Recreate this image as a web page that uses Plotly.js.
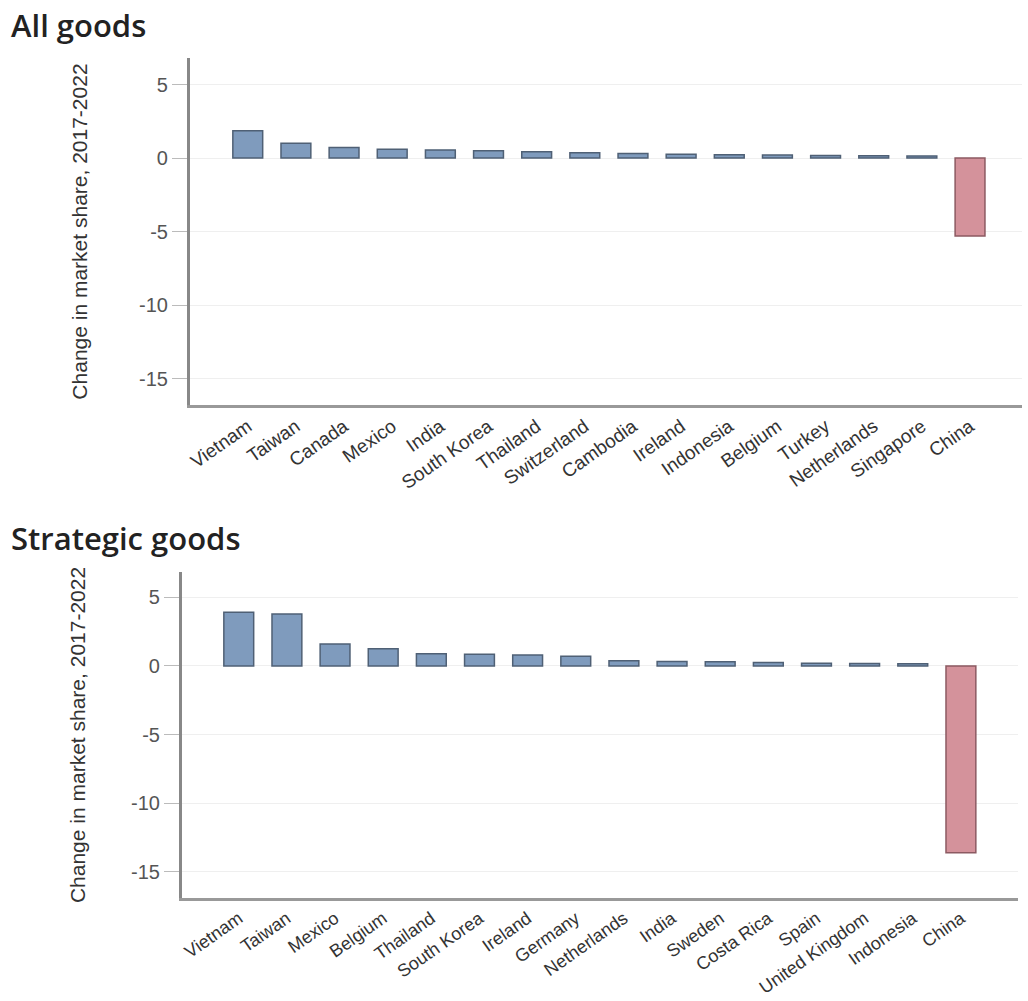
<!DOCTYPE html>
<html>
<head>
<meta charset="utf-8">
<script src="https://cdn.plot.ly/plotly-3.0.1.min.js"></script>
<style>html,body{margin:0;padding:0;background:#fff;}#chart{width:1028px;height:1001px;}</style>
</head>
<body>
<div id="chart"></div>
<script>
// ---- data ----
const allCountries = ["Vietnam","Taiwan","Canada","Mexico","India","South Korea","Thailand","Switzerland","Cambodia","Ireland","Indonesia","Belgium","Turkey","Netherlands","Singapore","China"];
const allValues = [1.85, 1.0, 0.72, 0.6, 0.55, 0.5, 0.43, 0.36, 0.3, 0.25, 0.22, 0.2, 0.18, 0.16, 0.14, -5.3];

const stratCountries = ["Vietnam","Taiwan","Mexico","Belgium","Thailand","South Korea","Ireland","Germany","Netherlands","India","Sweden","Costa Rica","Spain","United Kingdom","Indonesia","China"];
const stratValues = [3.9, 3.78, 1.6, 1.25, 0.88, 0.85, 0.8, 0.7, 0.37, 0.32, 0.3, 0.25, 0.2, 0.17, 0.15, -13.6];

const panelTitles = ["All goods", "Strategic goods"];
const yTitle = "Change in market share, 2017-2022";
const yTicks = [5, 0, -5, -10, -15];

// ---- style ----
const posFill = "#7f9bbd", posLine = "#4f6075";
const negFill = "#d4929b", negLine = "#8c5a62";

function barTrace(cats, vals, xa, ya) {
  return {
    type: "bar", x: cats, y: vals, xaxis: xa, yaxis: ya,
    marker: {
      color: vals.map(v => v < 0 ? negFill : posFill),
      line: {color: vals.map(v => v < 0 ? negLine : posLine), width: 1.5}
    },
    hoverinfo: "x+y", showlegend: false
  };
}

const tickFontY = {family: "Liberation Sans, Arial, sans-serif", size: 20, color: "#555"};
const titleFontY = {family: "Liberation Sans, Arial, sans-serif", size: 21, color: "#333"};

function xAxis(domain, range, anchor, fsize) {
  return {
    domain: domain, range: range, anchor: anchor, type: "category",
    showline: true, linecolor: "#999", linewidth: 3,
    showgrid: false, zeroline: false, ticks: "", tickangle: -35,
    tickfont: {family: "Liberation Sans, Arial, sans-serif", size: fsize, color: "#333"},
    fixedrange: true
  };
}
function yAxis(domain, range, anchor, standoff) {
  return {
    domain: domain, range: range, anchor: anchor,
    tickvals: yTicks, ticktext: yTicks.map(String),
    showline: true, linecolor: "#888", linewidth: 3,
    showgrid: true, gridcolor: "#efefef", gridwidth: 1,
    zeroline: false, ticks: "outside", ticklen: 15, tickcolor: "#bbb", tickwidth: 1,
    tickfont: tickFontY,
    title: {text: yTitle, font: titleFontY, standoff: standoff},
    fixedrange: true
  };
}

const data = [
  barTrace(allCountries, allValues, "x", "y"),
  barTrace(stratCountries, stratValues, "x2", "y2")
];

const layout = {
  width: 1028, height: 1001,
  margin: {l: 0, r: 0, t: 0, b: 0},
  paper_bgcolor: "#fff", plot_bgcolor: "#fff",
  bargap: 0.38,
  xaxis: xAxis([0.1848, 0.9942], [-1.2, 16.08], "y", 19),
  yaxis: yAxis([0.5954, 0.942], [-16.8, 6.8], "x", 46),
  xaxis2: xAxis([0.177, 0.990], [-1.18, 16.18], "y2", 18),
  yaxis2: yAxis([0.1029, 0.4286], [-16.9, 6.84], "x2", 40),
  annotations: [
    {text: panelTitles[0], xref: "paper", yref: "paper", x: 0.009, y: 1 - 25/1001,
     xanchor: "left", yanchor: "middle", showarrow: false,
     font: {family: "Open Sans, Noto Sans, sans-serif", size: 31, weight: 600, color: "#222"}},
    {text: panelTitles[1], xref: "paper", yref: "paper", x: 0.009, y: 1 - 538/1001,
     xanchor: "left", yanchor: "middle", showarrow: false,
     font: {family: "Open Sans, Noto Sans, sans-serif", size: 31, weight: 600, color: "#222"}}
  ]
};

Plotly.newPlot("chart", data, layout, {displayModeBar: false, staticPlot: true});
</script>
</body>
</html>
